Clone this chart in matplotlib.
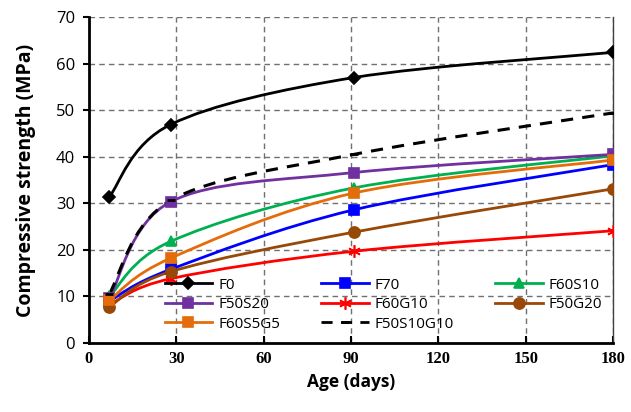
import matplotlib
matplotlib.use("Agg")
import matplotlib.pyplot as plt
import numpy as np
from matplotlib.path import Path
from matplotlib.patches import PathPatch
from matplotlib.lines import Line2D

ages = [7, 28, 91, 180]
F0 = [31.4, 46.9, 57.0, 62.4]
F70 = [9.0, 15.8, 28.6, 38.3]
F60S10 = [10.0, 21.8, 33.3, 40.2]
F50S20 = [9.6, 30.3, 36.6, 40.5]
F60G10 = [8.2, 13.8, 19.7, 24.1]
F50G20 = [7.8, 15.3, 23.8, 33.1]
F60S5G5 = [9.2, 18.2, 32.2, 39.3]
F50S10G10 = [10.6, 30.6, 40.5, 49.4]

xticks = [0, 30, 60, 90, 120, 150, 180]
yticks = [0, 10, 20, 30, 40, 50, 60, 70]

series = [
    ("F0", F0, "black", "D", "-", 6),
    ("F70", F70, "#0000FF", "s", "-", 7),
    ("F60S10", F60S10, "#00B050", "^", "-", 7),
    ("F50S20", F50S20, "#7030A0", "s", "-", 7),
    ("F60G10", F60G10, "#FF0000", (6, 2, 0), "-", 9),
    ("F50G20", F50G20, "#984807", "o", "-", 8),
    ("F60S5G5", F60S5G5, "#E46C0A", "s", "-", 7),
    ("F50S10G10", F50S10G10, "black", "_", (0, (4, 3)), 6),
]


def smooth_path(x, y):
    P = np.column_stack([x, y]).astype(float)
    n = len(P)
    verts = [P[0]]
    codes = [Path.MOVETO]
    for i in range(n - 1):
        p0 = P[i - 1] if i > 0 else P[i]
        p1 = P[i]
        p2 = P[i + 1]
        p3 = P[i + 2] if i + 2 < n else P[i + 1]
        c1 = p1 + (p2 - p0) / 6.0
        c2 = p2 - (p3 - p1) / 6.0
        verts += [c1, c2, p2]
        codes += [Path.CURVE4] * 3
    return Path(verts, codes)


fig = plt.figure(figsize=(6.31, 4.12), dpi=100)
ax = fig.add_axes([89 / 631, 1 - 343 / 412, (613 - 89) / 631, (343 - 17) / 412])
ax.set_xlim(0, 180)
ax.set_ylim(0, 70)

handles = {}
for name, vals, col, mk, ls, ms in series:
    patch = PathPatch(smooth_path(ages, vals), facecolor="none", edgecolor=col,
                      linewidth=2.0 if name != "F50S10G10" else 2.2,
                      linestyle=ls, zorder=3, capstyle="butt")
    ax.add_patch(patch)
    ax.plot(ages, vals, linestyle="none", marker=mk, color=col, markersize=ms,
            markeredgewidth=1.2 if mk != "_" else 2, zorder=4)
    handles[name] = Line2D([], [], color=col, linestyle=ls, linewidth=2.0,
                           marker=mk, markersize=ms, markeredgewidth=1.2 if mk != "_" else 2)

ax.set_xticks(xticks)
ax.set_yticks(yticks)
ax.grid(True, color="#707070", linestyle=(0, (4, 3)), linewidth=1.0)
ax.set_axisbelow(True)
for s in ["left", "bottom"]:
    ax.spines[s].set_linewidth(2.0)
    ax.spines[s].set_color("black")
ax.spines["top"].set_visible(False)
ax.spines["right"].set_color("#404040")
ax.spines["right"].set_linewidth(1.0)
ax.tick_params(axis="x", direction="in", length=5, width=1.5, pad=6)
ax.tick_params(axis="y", direction="out", length=4, width=1.5, pad=6)

for lab in ax.get_xticklabels():
    lab.set_fontfamily("Liberation Serif")
    lab.set_fontweight("bold")
    lab.set_fontsize(12)
for lab in ax.get_yticklabels():
    lab.set_fontfamily("Open Sans")
    lab.set_fontsize(12)

ax.set_xlabel("Age (days)", fontsize=12.5, fontweight="bold", fontfamily="Open Sans", labelpad=4)
ax.set_ylabel("Compressive strength (MPa)", fontsize=14, fontweight="bold",
              fontfamily="Open Sans", labelpad=14)

order = ["F0", "F50S20", "F60S5G5", "F70", "F60G10", "F50S10G10", "F60S10", "F50G20"]
leg = ax.legend([handles[k] for k in order], order, ncol=3, loc="upper left",
                bbox_to_anchor=(157 / 631, 1 - 270 / 412), bbox_transform=fig.transFigure,
                frameon=False, borderpad=0, handlelength=3.1, handletextpad=0.4,
                labelspacing=0.3, columnspacing=2.7,
                prop={"family": "Open Sans", "size": 11})

fig.savefig("out.png", dpi=100)
